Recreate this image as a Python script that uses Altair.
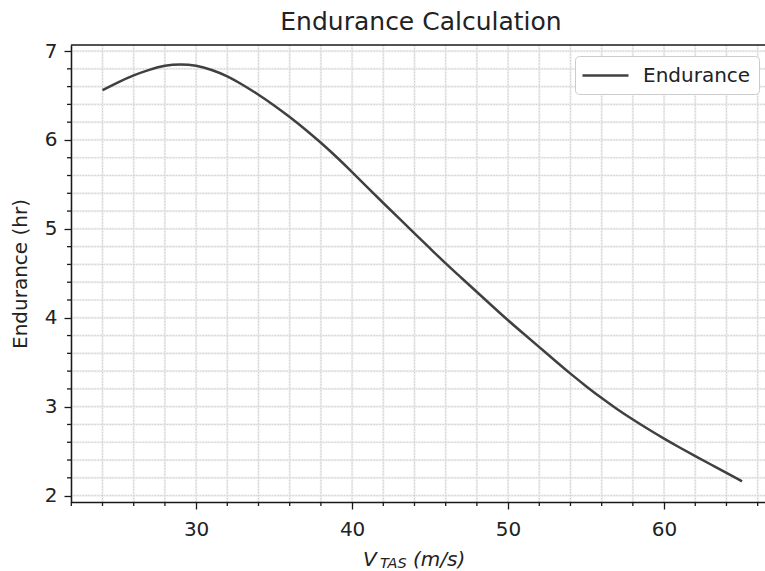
import altair as alt
import pandas as pd

# ---- data ----
speed = [24, 25, 26, 27, 28, 29, 30, 31, 32, 33, 34, 35, 36, 37, 38, 39, 40,
         41, 42, 43, 44, 45, 46, 47, 48, 49, 50, 51, 52, 53, 54, 55, 56, 57,
         58, 59, 60, 61, 62, 63, 64, 65]
endurance = [6.56, 6.65, 6.73, 6.79, 6.84, 6.855, 6.84, 6.79, 6.72, 6.62,
             6.51, 6.39, 6.26, 6.12, 5.97, 5.81, 5.64, 5.465, 5.29, 5.12,
             4.95, 4.78, 4.61, 4.45, 4.29, 4.13, 3.97, 3.82, 3.67, 3.52,
             3.37, 3.23, 3.095, 2.97, 2.855, 2.745, 2.64, 2.54, 2.445, 2.35,
             2.255, 2.16]
series_name = ["Endurance"]

x_major = [30, 40, 50, 60]
x_minor = [22, 24, 26, 28, 32, 34, 36, 38, 42, 44, 46, 48, 52, 54, 56, 58,
           62, 64, 66]
x_grid = [22, 24, 26, 28, 30, 32, 34, 36, 38, 40, 42, 44, 46, 48, 50, 52,
          54, 56, 58, 60, 62, 64, 66]
y_major = [2, 3, 4, 5, 6, 7]
y_minor = [2.2, 2.4, 2.6, 2.8, 3.2, 3.4, 3.6, 3.8, 4.2, 4.4, 4.6, 4.8,
           5.2, 5.4, 5.6, 5.8, 6.2, 6.4, 6.6, 6.8]
y_grid = [2.0, 2.2, 2.4, 2.6, 2.8, 3.0, 3.2, 3.4, 3.6, 3.8, 4.0, 4.2, 4.4,
          4.6, 4.8, 5.0, 5.2, 5.4, 5.6, 5.8, 6.0, 6.2, 6.4, 6.6, 6.8, 7.0]
x_domain = [21.98, 66.47]
y_domain = [1.928, 7.068]

W, H = 694, 457
FONT = "DejaVu Sans"
TXT = "#222222"
SPINE = "#1a1a1a"

df = pd.DataFrame({"speed": speed, "endurance": endurance,
                   "series": series_name * len(speed)})
xs = alt.Scale(domain=x_domain, nice=False, zero=False)
ys = alt.Scale(domain=y_domain, nice=False, zero=False)

# identical axis definitions shared by every layer
ax_x = alt.Axis(values=x_major, format="d", title="", tickSize=7,
                labelPadding=10, labelFlush=False, grid=False, zindex=1)
ax_y = alt.Axis(values=y_major, format="d", title="Endurance (hr)",
                tickSize=7, labelPadding=7, grid=False, titlePadding=14,
                zindex=1)

gx = pd.DataFrame({"v": x_grid})
gy = pd.DataFrame({"v": y_grid})
one = pd.DataFrame({"a": [0]})

grid_x_base = alt.Chart(gx).mark_rule(color="#f0f0f0", strokeWidth=2.2).encode(
    x=alt.X("v:Q", scale=xs, axis=ax_x))
grid_y_base = alt.Chart(gy).mark_rule(color="#f0f0f0", strokeWidth=2.2).encode(
    y=alt.Y("v:Q", scale=ys, axis=ax_y))
grid_x_dot = alt.Chart(gx).mark_rule(color="#d2d2d2", strokeWidth=1,
                                     strokeDash=[1.5, 1.5]).encode(
    x=alt.X("v:Q", scale=xs, axis=ax_x))
grid_y_dot = alt.Chart(gy).mark_rule(color="#d2d2d2", strokeWidth=1,
                                     strokeDash=[1.5, 1.5]).encode(
    y=alt.Y("v:Q", scale=ys, axis=ax_y))

line = alt.Chart(df).mark_line(strokeWidth=2.5, interpolate="basis").encode(
    x=alt.X("speed:Q", scale=xs, axis=ax_x),
    y=alt.Y("endurance:Q", scale=ys, axis=ax_y),
    color=alt.Color("series:N", scale=alt.Scale(range=["#404040"]),
                    legend=alt.Legend(title="", orient="none", legendX=504,
                                      legendY=11,
                                      symbolType="M-1.2,0H3.4",
                                      symbolSize=400, symbolStrokeWidth=2.5,
                                      labelFontSize=20, labelFont=FONT,
                                      labelColor=TXT, labelOffset=37,
                                      fillColor="white", strokeColor="#cccccc",
                                      cornerRadius=4, padding=8)),
)

top_spine = alt.Chart(one).mark_rule(color=SPINE, strokeWidth=1.5).encode(
    x=alt.value(0), x2=alt.value(W), y=alt.value(0))
minor_x = alt.Chart(pd.DataFrame({"v": x_minor})).mark_rule(
    color=SPINE, strokeWidth=1.3).encode(
    x=alt.X("v:Q", scale=xs, axis=ax_x), y=alt.value(H), y2=alt.value(H + 4))
minor_y = alt.Chart(pd.DataFrame({"v": y_minor})).mark_rule(
    color=SPINE, strokeWidth=1.3).encode(
    y=alt.Y("v:Q", scale=ys, axis=ax_y), x=alt.value(0), x2=alt.value(-4))

t_v = alt.Chart(one).mark_text(text="V", font=FONT, fontSize=20,
                               fontStyle="italic", align="left",
                               baseline="alphabetic", color=TXT).encode(
    x=alt.value(292), y=alt.value(521))
t_sub = alt.Chart(one).mark_text(text="TAS", font=FONT, fontSize=14.5,
                                 fontStyle="italic", align="left",
                                 baseline="alphabetic", color=TXT).encode(
    x=alt.value(309), y=alt.value(523))
t_unit = alt.Chart(one).mark_text(text="(m/s)", font=FONT, fontSize=20,
                                  fontStyle="italic", align="left",
                                  baseline="alphabetic", color=TXT).encode(
    x=alt.value(342), y=alt.value(521))

chart = alt.layer(
    grid_x_base, grid_y_base, grid_x_dot, grid_y_dot, line,
    top_spine, minor_x, minor_y, t_v, t_sub, t_unit
).properties(
    width=W, height=H,
    padding={"left": 71, "top": 45, "right": 0, "bottom": 69},
    autosize=alt.AutoSizeParams(type="none"),
    title=alt.TitleParams("Endurance Calculation", font=FONT, fontSize=25,
                          fontWeight="normal", color=TXT, offset=6, dx=3),
).configure(font=FONT).configure_view(stroke="transparent").configure_axis(
    domainColor=SPINE, domainWidth=1.5, tickColor=SPINE,
    tickWidth=1.3, labelFont=FONT, labelFontSize=20, labelColor=TXT,
    titleFont=FONT, titleFontSize=20, titleFontWeight="normal",
    titleColor=TXT,
)

chart.save("out.html", embed_options={"renderer": "svg", "actions": False})
